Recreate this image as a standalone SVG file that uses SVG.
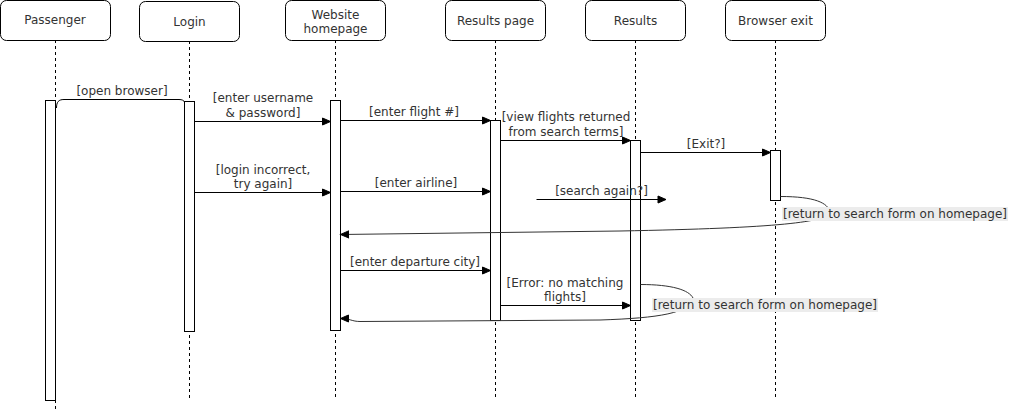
<svg xmlns="http://www.w3.org/2000/svg" width="1021" height="411" viewBox="0 0 1021 411">
<style>
.hdr{fill:#fff;stroke:#000;stroke-width:1}
.life{stroke:#000;stroke-width:1;stroke-dasharray:3,3;fill:none}
.act{fill:#fff;stroke:#000;stroke-width:1}
.msg{stroke:#000;stroke-width:1;fill:none}
.ret{stroke:#333;stroke-width:1;fill:none}
text{font-family:"DejaVu Sans",Verdana,sans-serif;font-size:12px;fill:#333;text-anchor:middle;dominant-baseline:central}
.lblbg{fill:#ececec}
</style>
<defs>
<marker id="ah" markerWidth="10" markerHeight="10" refX="9" refY="5" orient="auto" markerUnits="userSpaceOnUse">
<path d="M1,1.5 L9,5 L1,8.5 Z" fill="#000" stroke="#000" stroke-width="1"/>
</marker>
</defs>
<g id="lifelines">
<line class="life" x1="55.5" y1="40" x2="55.5" y2="411"/>
<line class="life" x1="189.5" y1="41" x2="189.5" y2="399"/>
<line class="life" x1="335.5" y1="40" x2="335.5" y2="398"/>
<line class="life" x1="495.5" y1="40" x2="495.5" y2="398"/>
<line class="life" x1="635.5" y1="40" x2="635.5" y2="398"/>
<line class="life" x1="775.5" y1="40" x2="775.5" y2="398"/>
</g>
<g id="passenger">
<rect class="hdr" x="0.5" y="0.5" width="110" height="40" rx="6"/>
<text x="55" y="20">Passenger</text>
<rect class="act" x="45.5" y="100.5" width="10" height="300"/>
</g>
<g id="login">
<rect class="hdr" x="139.5" y="1.5" width="100" height="40" rx="6"/>
<text x="189.5" y="21.5">Login</text>
<rect class="act" x="184.5" y="101.5" width="10" height="230"/>
</g>
<g id="website-homepage">
<rect class="hdr" x="285.5" y="0.5" width="100" height="40" rx="6"/>
<text x="335.5" y="14.5">Website</text>
<text x="335.5" y="28.5">homepage</text>
<rect class="act" x="330.5" y="100.5" width="10" height="230"/>
</g>
<g id="results-page">
<rect class="hdr" x="445.5" y="0.5" width="100" height="40" rx="6"/>
<text x="495.5" y="20.5">Results page</text>
<rect class="act" x="490.5" y="120.5" width="10" height="200"/>
</g>
<g id="results">
<rect class="hdr" x="585.5" y="0.5" width="100" height="40" rx="6"/>
<text x="635.5" y="20.5">Results</text>
<rect class="act" x="630.5" y="140.5" width="10" height="180"/>
</g>
<g id="browser-exit">
<rect class="hdr" x="725.5" y="0.5" width="100" height="40" rx="6"/>
<text x="775.5" y="20.5">Browser exit</text>
<rect class="act" x="770.5" y="150.5" width="10" height="50"/>
</g>
<g id="connectors">
<path class="msg" d="M56.5,108 C56.5,102 58.5,99.5 64,99.5 L179,99.5 C182,99.5 184,100.5 184.5,102"/>
<text x="122" y="90.5">[open browser]</text>

<path class="msg" d="M194.5,121.5 L330.5,121.5" marker-end="url(#ah)"/>
<text x="263" y="98">[enter username</text>
<text x="263" y="112.5">&amp; password]</text>

<path class="msg" d="M340.5,120.5 L490.5,120.5" marker-end="url(#ah)"/>
<text x="414" y="111.5">[enter flight #]</text>

<path class="msg" d="M500.5,140.5 L630.5,140.5" marker-end="url(#ah)"/>
<text x="566" y="117">[view flights returned</text>
<text x="566" y="131.5">from search terms]</text>

<path class="msg" d="M640.5,152.5 L770.5,152.5" marker-end="url(#ah)"/>
<text x="706" y="144">[Exit?]</text>

<path class="msg" d="M194.5,192.5 L330.5,192.5" marker-end="url(#ah)"/>
<text x="263" y="170">[login incorrect,</text>
<text x="263" y="184">try again]</text>

<path class="msg" d="M340.5,191.5 L490.5,191.5" marker-end="url(#ah)"/>
<text x="416" y="182.5">[enter airline]</text>

<path class="msg" d="M536.5,199.5 L666,199.5" marker-end="url(#ah)"/>
<text x="601.5" y="190.5">[search again?]</text>

<path class="ret" d="M780.5,196.5 C815,196.5 828,203 830,212 C828,222 780,228 620,231 L340.5,234.5" marker-end="url(#ah)"/>
<rect class="lblbg" x="782" y="207" width="226" height="14"/>
<text x="895" y="214">[return to search form on homepage]</text>

<path class="msg" d="M340.5,270.5 L490.5,270.5" marker-end="url(#ah)"/>
<text x="415" y="261.5">[enter departure city]</text>

<path class="msg" d="M500.5,305.5 L630.5,305.5" marker-end="url(#ah)"/>
<text x="565" y="283">[Error: no matching</text>
<text x="565" y="296.5">flights]</text>

<path class="ret" d="M640.5,284.5 C672,284.5 689,290 693,298 C690,313 660,318 600,320 L360,321.5 C352,321.5 350,318.5 340.5,318.5" marker-end="url(#ah)"/>
<rect class="lblbg" x="652" y="298" width="226" height="14"/>
<text x="765" y="305">[return to search form on homepage]</text>
</g>
</svg>
